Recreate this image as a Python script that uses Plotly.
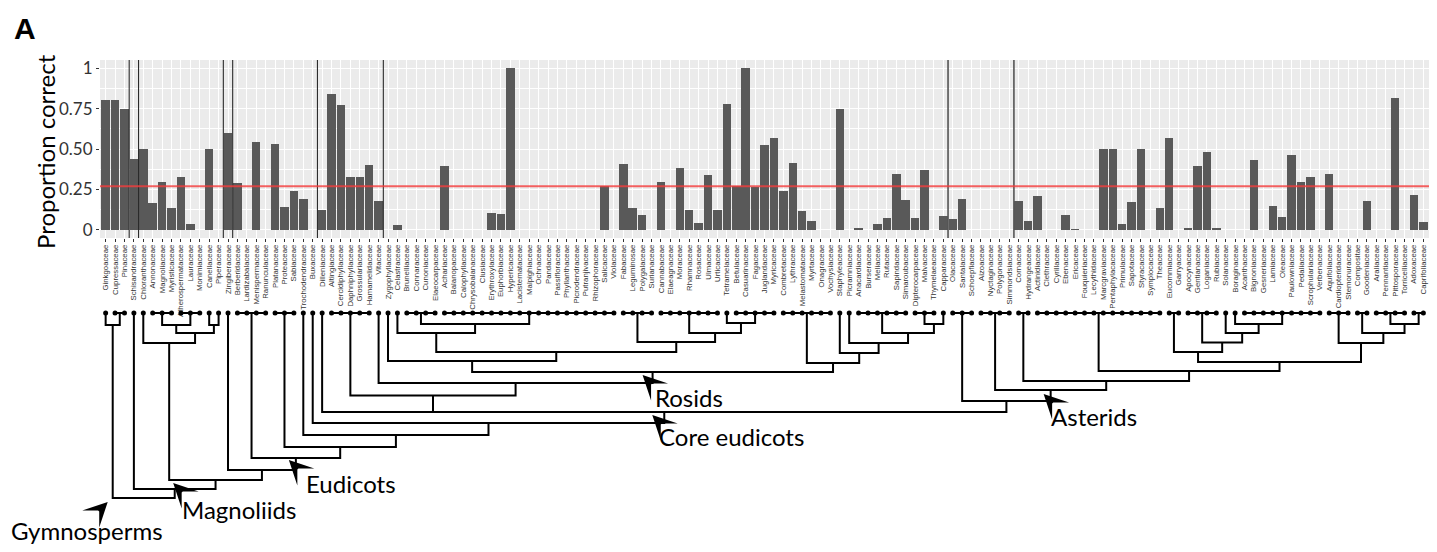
import plotly.graph_objects as go

# ---------------- data ----------------
families = [
    "Ginkgoaceae", "Cupressaceae", "Pinaceae", "Schisandraceae", "Chloranthaceae",
    "Annonaceae", "Magnoliaceae", "Myristicaceae", "Atherospermataceae", "Lauraceae",
    "Monimiaceae", "Canellaceae", "Piperaceae", "Zingiberaceae", "Berberidaceae",
    "Lardizabalaceae", "Menispermaceae", "Ranunculaceae", "Platanaceae", "Proteaceae",
    "Sabiaceae", "Trochodendraceae", "Buxaceae", "Dilleniaceae", "Altingiaceae",
    "Cercidiphyllaceae", "Daphniphyllaceae", "Grossulariaceae", "Hamamelidaceae", "Vitaceae",
    "Zygophyllaceae", "Celastraceae", "Brunelliaceae", "Connaraceae", "Cunoniaceae",
    "Elaeocarpaceae", "Achariaceae", "Balanopaceae", "Calophyllaceae", "Chrysobalanaceae",
    "Clusiaceae", "Erythroxylaceae", "Euphorbiaceae", "Hypericaceae", "Lacistemataceae",
    "Malpighiaceae", "Ochnaceae", "Pandaceae", "Passifloraceae", "Phyllanthaceae",
    "Picrodendraceae", "Putranjivaceae", "Rhizophoraceae", "Salicaceae", "Violaceae",
    "Fabaceae", "Leguminosae", "Polygalaceae", "Surianaceae", "Cannabaceae",
    "Elaeagnaceae", "Moraceae", "Rhamnaceae", "Rosaceae", "Ulmaceae",
    "Urticaceae", "Tetramelaceae", "Betulaceae", "Casuarinaceae", "Fagaceae",
    "Juglandaceae", "Myricaceae", "Combretaceae", "Lythraceae", "Melastomataceae",
    "Myrtaceae", "Onagraceae", "Vochysiaceae", "Staphyleaceae", "Picramniaceae",
    "Anacardiaceae", "Burseraceae", "Meliaceae", "Rutaceae", "Sapindaceae",
    "Simaroubaceae", "Dipterocarpaceae", "Malvaceae", "Thymelaeaceae", "Capparaceae",
    "Olacaceae", "Santalaceae", "Schoepfiaceae", "Aizoaceae", "Nyctaginaceae",
    "Polygonaceae", "Simmondsiaceae", "Cornaceae", "Hydrangeaceae", "Actinidiaceae",
    "Clethraceae", "Cyrillaceae", "Ebenaceae", "Ericaceae", "Fouquieriaceae",
    "Lecythidaceae", "Marcgraviaceae", "Pentaphylacaceae", "Primulaceae", "Sapotaceae",
    "Styracaceae", "Symplocaceae", "Theaceae", "Eucommiaceae", "Garryaceae",
    "Apocynaceae", "Gentianaceae", "Loganiaceae", "Rubiaceae", "Solanaceae",
    "Boraginaceae", "Acanthaceae", "Bignoniaceae", "Gesneriaceae", "Lamiaceae",
    "Oleaceae", "Paulowniaceae", "Pedaliaceae", "Scrophulariaceae", "Verbenaceae",
    "Aquifoliaceae", "Cardiopteridaceae", "Stemonuraceae", "Compositae", "Goodeniaceae",
    "Araliaceae", "Pennantiaceae", "Pittosporaceae", "Torricelliaceae", "Adoxaceae",
    "Caprifoliaceae",
]

proportion_correct = [
    0.80, 0.80, 0.75, 0.44, 0.50,
    0.165, 0.294, 0.137, 0.327, 0.037,
    0.0, 0.50, 0.0, 0.60, 0.29,
    0.0, 0.542, 0.0, 0.532, 0.143,
    0.242, 0.194, 0.0, 0.126, 0.842,
    0.772, 0.327, 0.327, 0.404, 0.18,
    0.0, 0.033, 0.0, 0.0, 0.0,
    0.0, 0.395, 0.0, 0.0, 0.0,
    0.0, 0.103, 0.099, 1.0, 0.0,
    0.0, 0.0, 0.0, 0.0, 0.0,
    0.0, 0.0, 0.0, 0.269, 0.0,
    0.408, 0.134, 0.093, 0.0, 0.296,
    0.0, 0.381, 0.124, 0.045, 0.337,
    0.126, 0.778, 0.269, 1.0, 0.265,
    0.524, 0.569, 0.238, 0.416, 0.114,
    0.052, 0.0, 0.0, 0.747, 0.0,
    0.01, 0.0, 0.037, 0.076, 0.348,
    0.186, 0.072, 0.368, 0.0, 0.083,
    0.068, 0.194, 0.0, 0.0, 0.0,
    0.0, 0.0, 0.18, 0.054, 0.207,
    0.0, 0.0, 0.093, 0.003, 0.0,
    0.0, 0.497, 0.497, 0.039, 0.172,
    0.503, 0.0, 0.134, 0.565, 0.0,
    0.01, 0.397, 0.48, 0.01, 0.0,
    0.0, 0.0, 0.435, 0.0, 0.145,
    0.078, 0.461, 0.294, 0.327, 0.0,
    0.345, 0.0, 0.0, 0.0, 0.18,
    0.0, 0.0, 0.815, 0.0, 0.217,
    0.047,
]

chance_level = 0.27
y_tick_values = [0, 0.25, 0.5, 0.75, 1]
y_tick_labels = ["0", "0.25", "0.50", "0.75", "1"]

# vertical separators drawn after these families
separators_after = ["Pinaceae", "Schisandraceae", "Piperaceae", "Zingiberaceae",
                    "Buxaceae", "Vitaceae", "Capparaceae", "Simmondsiaceae"]

# orders (first and last family of each order, joined at the tips)
orders = {
    "Ginkgoales": ["Ginkgoaceae"],
    "Pinales": ["Cupressaceae", "Pinaceae"],
    "Austrobaileyales": ["Schisandraceae"],
    "Chloranthales": ["Chloranthaceae"],
    "Magnoliales": ["Annonaceae", "Myristicaceae"],
    "Laurales": ["Atherospermataceae", "Monimiaceae"],
    "Canellales": ["Canellaceae"],
    "Piperales": ["Piperaceae"],
    "Zingiberales": ["Zingiberaceae"],
    "Ranunculales": ["Berberidaceae", "Ranunculaceae"],
    "Proteales": ["Platanaceae", "Sabiaceae"],
    "Trochodendrales": ["Trochodendraceae"],
    "Buxales": ["Buxaceae"],
    "Dilleniales": ["Dilleniaceae"],
    "Saxifragales": ["Altingiaceae", "Hamamelidaceae"],
    "Vitales": ["Vitaceae"],
    "Zygophyllales": ["Zygophyllaceae"],
    "Celastrales": ["Celastraceae"],
    "Oxalidales": ["Brunelliaceae", "Elaeocarpaceae"],
    "Malpighiales": ["Achariaceae", "Violaceae"],
    "Fabales": ["Fabaceae", "Surianaceae"],
    "Rosales": ["Cannabaceae", "Urticaceae"],
    "Cucurbitales": ["Tetramelaceae"],
    "Fagales": ["Betulaceae", "Myricaceae"],
    "Myrtales": ["Combretaceae", "Vochysiaceae"],
    "Crossosomatales": ["Staphyleaceae"],
    "Picramniales": ["Picramniaceae"],
    "Sapindales": ["Anacardiaceae", "Simaroubaceae"],
    "Malvales": ["Dipterocarpaceae", "Thymelaeaceae"],
    "Brassicales": ["Capparaceae"],
    "Santalales": ["Olacaceae", "Schoepfiaceae"],
    "Caryophyllales": ["Aizoaceae", "Simmondsiaceae"],
    "Cornales": ["Cornaceae", "Hydrangeaceae"],
    "Ericales": ["Actinidiaceae", "Theaceae"],
    "Garryales": ["Eucommiaceae", "Garryaceae"],
    "Gentianales": ["Apocynaceae", "Rubiaceae"],
    "Solanales": ["Solanaceae"],
    "Boraginales": ["Boraginaceae"],
    "Lamiales": ["Acanthaceae", "Verbenaceae"],
    "Aquifoliales": ["Aquifoliaceae", "Stemonuraceae"],
    "Asterales": ["Compositae", "Goodeniaceae"],
    "Apiales": ["Araliaceae", "Torricelliaceae"],
    "Dipsacales": ["Adoxaceae", "Caprifoliaceae"],
}


def N(name, depth, *kids):
    return (name, depth, list(kids))


# node depth = distance below the tips (tree units)
malvids = N("Malvids", 50, "Myrtales",
            N("", 40, "Crossosomatales",
              N("", 30, "Picramniales",
                N("", 20, "Sapindales", N("", 11, "Malvales", "Brassicales")))))
com = N("COM", 20, "Celastrales", N("", 11, "Oxalidales", "Malpighiales"))
nfix = N("Nfix", 29, "Fabales",
         N("", 20, "Rosales", N("", 10, "Cucurbitales", "Fagales")))
fabids = N("Fabids", 39, com, nfix)
rosids = N("Rosids", 59, N("ZygoFabids", 48, "Zygophyllales", fabids), malvids)
superrosids = N("Superrosids", 82.5, "Saxifragales", N("VitRosids", 70, "Vitales", rosids))
lamiids = N("Lamiids", 39, "Garryales",
            N("", 29.5, "Gentianales",
              N("", 20, "Solanales", N("", 11, "Boraginales", "Lamiales"))))
campanulids = N("Campanulids", 30, "Aquifoliales",
                N("", 20, "Asterales", N("", 11, "Apiales", "Dipsacales")))
asterids = N("Asterids", 68, "Cornales",
             N("", 58, "Ericales", N("Euasterids", 49, lamiids, campanulids)))
superasterids = N("Superasterids", 88, "Santalales",
                  N("CaryAsterids", 77, "Caryophyllales", asterids))
core = N("Core eudicots", 99, "Dilleniales", superrosids, superasterids)
eudicots = N("Eudicots", 145, "Ranunculales",
             N("", 134, "Proteales",
               N("", 122, "Trochodendrales", N("", 110, "Buxales", core))))
magnoliids = N("Magnoliids", 20, N("", 12, "Magnoliales", "Laurales"),
               N("", 12, "Canellales", "Piperales"))
mesangio = N("Mesangiosperms", 167, N("ChlMag", 30, "Chloranthales", magnoliids),
             N("", 157, "Zingiberales", eudicots))
tree = N("Root", 185, N("Gymnosperms", 12, "Ginkgoales", "Pinales"),
         N("Angiosperms", 176, "Austrobaileyales", mesangio))

# clade labels: text, node for x, node for depth, tip shift px, label shift px, anchor, arrow dir
clade_labels = [
    ("Gymnosperms", "Gymnosperms", "Root", (-5, 4), (57, 28), "right", "NE"),
    ("Magnoliids", "ChlMag", "Mesangiosperms", (4, 3), (7, 26), "left", "NW"),
    ("Eudicots", "Eudicots", "Eudicots", (-7, 2), (15, 23), "left", "NW"),
    ("Rosids", "Rosids", "Rosids", (-10, 3), (10, 22), "left", "NW"),
    ("Core eudicots", "Core eudicots", "Core eudicots", (-12, 3), (5, 21), "left", "NW"),
    ("Asterids", "CaryAsterids", "CaryAsterids", (-7, 4), (5, 22), "left", "NW"),
]

# ---------------- tree geometry ----------------
idx = {f: i for i, f in enumerate(families)}
seg_x, seg_y = [], []
node_pos = {}


def add_path(xs, ys):
    seg_x.extend(xs + [None])
    seg_y.extend(ys + [None])


def place(node):
    if isinstance(node, str):
        fams = orders[node]
        a, b = idx[fams[0]], idx[fams[-1]]
        if b > a:
            add_path([a, b], [0, 0])
        return (a + b) / 2.0, 0.0
    name, depth, kids = node
    pos = [place(k) for k in kids]
    pos_sorted = sorted(pos)
    (xl, dl), (xr_, dr) = pos_sorted[0], pos_sorted[-1]
    add_path([xl, xl, xr_, xr_], [dl, depth, depth, dr])
    for (cx, cd) in pos_sorted[1:-1]:
        add_path([cx, cx], [cd, depth])
    x = (xl + xr_) / 2.0
    if name:
        node_pos[name] = (x, depth)
    return x, depth


place(tree)

# ---------------- figure ----------------
W, H = 1437, 552
ML, MR = 100, 8
xr = [-0.6, len(families) - 0.4]
bar_dom = [1 - 238 / H, 1 - 60 / H]
tree_dom = [0, 1 - 300 / H]

fig = go.Figure()
fig.add_trace(go.Bar(
    x=list(range(len(families))), y=proportion_correct, width=0.9,
    marker=dict(color="#595959", line=dict(width=0)),
    xaxis="x", yaxis="y", showlegend=False, hoverinfo="x+y"))

fig.add_trace(go.Scatter(
    x=seg_x, y=seg_y, mode="lines", line=dict(color="black", width=2),
    xaxis="x2", yaxis="y2", showlegend=False, hoverinfo="skip"))
fig.add_trace(go.Scatter(
    x=list(range(len(families))), y=[0] * len(families), mode="markers",
    marker=dict(color="black", size=5), xaxis="x2", yaxis="y2",
    showlegend=False, hoverinfo="skip"))

shapes = [dict(type="rect", xref="x domain", yref="y domain", x0=0, x1=1, y0=0, y1=1,
               fillcolor="#EBEBEB", line=dict(width=0), layer="below")]
for k, f in enumerate(separators_after):
    shapes.append(dict(type="line", xref="x", yref="y domain",
                       x0=idx[f] + 0.5, x1=idx[f] + 0.5, y0=0, y1=1,
                       line=dict(color="#1a1a1a" if k < 6 else "#555555",
                                 width=1 if k < 6 else 1.6),
                       layer="above"))
shapes.append(dict(type="line", xref="x domain", yref="y", x0=0, x1=1,
                   y0=chance_level, y1=chance_level,
                   line=dict(color="rgba(245,60,60,0.8)", width=2), layer="above"))

annotations = [
    dict(text="Proportion correct", xref="paper", yref="paper",
         x=(45 - ML) / (W - ML - MR), y=1 - 152 / H, textangle=-90,
         showarrow=False, xanchor="center", yanchor="middle",
         font=dict(family="Lato", size=24, color="black")),
    dict(text="<b>A</b>", xref="paper", yref="paper",
         x=(12 - ML) / (W - ML - MR), y=1 - 10 / H, showarrow=False,
         xanchor="left", yanchor="top",
         font=dict(family="Liberation Sans", size=30, color="black")),
]
for text, nx, nd, (tx, ty), (lx, ly), anchor, direction in clade_labels:
    x = node_pos[nx][0]
    d = node_pos[nd][1]
    ax = 8 if direction == "NW" else -8
    annotations.append(dict(
        text="", x=x, y=d, xref="x2", yref="y2", xshift=tx, yshift=-ty,
        showarrow=True, arrowhead=3, arrowsize=2.0, arrowwidth=2,
        arrowcolor="black", ax=ax, ay=8, standoff=0))
    annotations.append(dict(
        text=text, x=x, y=d, xref="x2", yref="y2",
        xshift=tx + lx, yshift=-(ty + ly), showarrow=False,
        xanchor=anchor, yanchor="middle",
        font=dict(family="Lato", size=24, color="black")))

fig.update_layout(
    width=W, height=H,
    margin=dict(l=ML, r=MR, t=0, b=0, pad=0),
    paper_bgcolor="white", plot_bgcolor="white",
    bargap=0,
    xaxis=dict(domain=[0, 1], anchor="y", range=xr,
               tickmode="array", tickvals=list(range(len(families))), ticktext=families,
               tickangle=-90, tickfont=dict(family="Liberation Sans", size=7.8, color="#333333"),
               ticks="outside", ticklen=2.5, tickwidth=0.8, tickcolor="#333333",
               showgrid=True, gridcolor="white", gridwidth=1,
               zeroline=False, showline=False, automargin=False),
    yaxis=dict(domain=bar_dom, anchor="x", range=[-0.05, 1.05],
               tickmode="array", tickvals=y_tick_values, ticktext=y_tick_labels,
               tickfont=dict(family="Lato", size=17, color="#333333"),
               ticks="outside", ticklen=3, tickwidth=1, tickcolor="#333333",
               showgrid=True, gridcolor="white", gridwidth=1.2,
               minor=dict(tickvals=[0.125, 0.375, 0.625, 0.875], showgrid=True,
                          gridcolor="white", gridwidth=0.6, ticks=""),
               zeroline=False, showline=False, automargin=False),
    xaxis2=dict(domain=[0, 1], anchor="y2", range=xr, visible=False),
    yaxis2=dict(domain=tree_dom, anchor="x2", range=[239, -13], visible=False),
    shapes=shapes,
    annotations=annotations,
)

fig.write_html("out.html")
